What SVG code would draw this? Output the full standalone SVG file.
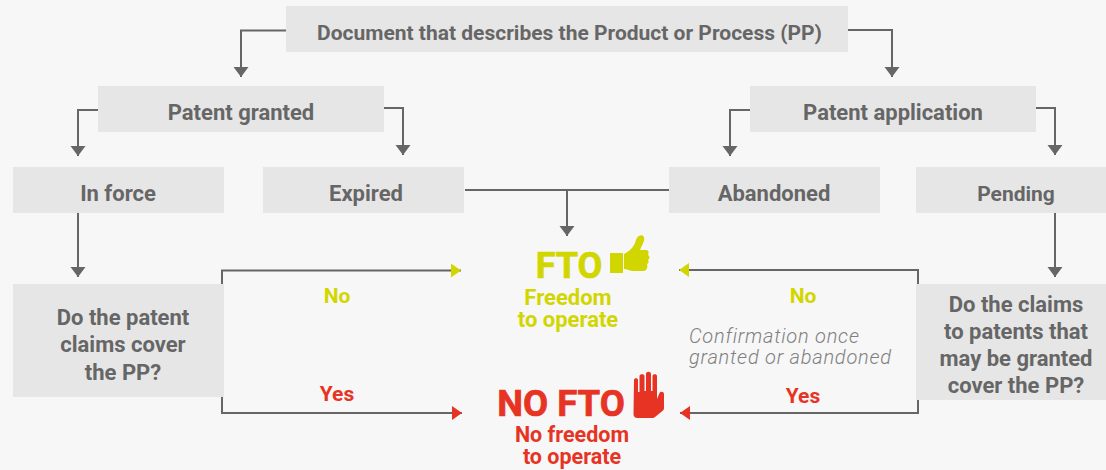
<svg xmlns="http://www.w3.org/2000/svg" width="1106" height="470" viewBox="0 0 1106 470">
<style>
text{font-family:Roboto,"Liberation Sans",sans-serif;text-anchor:middle;font-weight:700}
.n rect{fill:#e6e6e6}
.n text{fill:#666;font-size:22px}
.c path{fill:none;stroke:#666;stroke-width:2}
.y{fill:#d2d600}.r{fill:#e73323}
.b{stroke-width:.7px}
.y.b{stroke:#d2d600}.r.b{stroke:#e73323}
.i{fill:#808080;font-size:20px;font-weight:300;font-style:italic;text-anchor:start;letter-spacing:.77px}
</style>
<defs>
<marker id="g" markerUnits="userSpaceOnUse" markerWidth="12" markerHeight="16" refX="11" refY="8" orient="auto"><path d="M1 .5L11 8L1 15.500Z" fill="#666"/></marker>
<marker id="ym" markerUnits="userSpaceOnUse" markerWidth="12" markerHeight="14" refX="11" refY="7" orient="auto"><path d="M1 0L11 7L1 14Z" fill="#d2d600"/></marker>
<marker id="rm" markerUnits="userSpaceOnUse" markerWidth="12" markerHeight="14" refX="11" refY="7" orient="auto"><path d="M1 0L11 7L1 14Z" fill="#e73323"/></marker>
</defs>
<rect width="1106" height="470" fill="#f7f7f7"/>
<g class="c" id="connectors">
<path d="M286 30.500H241V77" marker-end="url(#g)"/>
<path d="M848 30H892V77" marker-end="url(#g)"/>
<path d="M98 110H78V156" marker-end="url(#g)"/>
<path d="M384 108H403V155" marker-end="url(#g)"/>
<path d="M750 110H730V156" marker-end="url(#g)"/>
<path d="M1036 108H1055V155" marker-end="url(#g)"/>
<path d="M465 190H669"/>
<path d="M567 190V236" marker-end="url(#g)"/>
<path d="M78 213V277" marker-end="url(#g)"/>
<path d="M1055 213V277" marker-end="url(#g)"/>
<path d="M222 284V270.500H461" marker-end="url(#ym)"/>
<path d="M222 397V413H462" marker-end="url(#rm)"/>
<path d="M918 284V270H679" marker-end="url(#ym)"/>
<path d="M918 400V413H680" marker-end="url(#rm)"/>
</g>
<g class="n" id="doc"><rect x="286" y="6" width="562" height="46"/><text x="569.500" y="40" style="font-size:21px">Document that describes the Product or Process (PP)</text></g>
<g class="n" id="granted"><rect x="98" y="86" width="286" height="46"/><text x="241" y="120">Patent granted</text></g>
<g class="n" id="application"><rect x="750" y="86" width="286" height="46"/><text x="893" y="120">Patent application</text></g>
<g class="n" id="inforce"><rect x="13" y="167" width="211" height="46"/><text x="118" y="201">In force</text></g>
<g class="n" id="expired"><rect x="263" y="167" width="201" height="46"/><text x="366" y="201">Expired</text></g>
<g class="n" id="abandoned"><rect x="669" y="167" width="211" height="46"/><text x="774" y="201">Abandoned</text></g>
<g class="n" id="pending"><rect x="916" y="167" width="190" height="46"/><text x="1016" y="201" style="font-size:21px">Pending</text></g>
<g class="n" id="q1"><rect x="13" y="284" width="211" height="113"/><text x="123" y="325">Do the patent</text><text x="123" y="352">claims cover</text><text x="123" y="380">the PP?</text></g>
<g class="n" id="q2"><rect x="916" y="284" width="190" height="116"/><text x="1016" y="312">Do the claims</text><text x="1016" y="339">to patents that</text><text x="1016" y="366">may be granted</text><text x="1016" y="393">cover the PP?</text></g>
<g id="fto">
<text class="y b" x="569" y="278" font-size="36">FTO</text>
<text class="y" x="568" y="305" font-size="22">Freedom</text>
<text class="y" x="568" y="327" font-size="22">to operate</text>
<path class="y" d="M610 253h13v20h-13zM624 254c4-2 8-5 10-9 2-3 2-8 5-9 4-2 6 1 5 5-1 3-3 6-4 9h6c3 0 3 3 2 5 2 1 2 3 0 5 1 2 1 3-1 4 1 3 0 7-4 7h-10c-3 0-6-2-9-2z"/>
</g>
<g id="nofto">
<text class="r b" x="561" y="416" font-size="36.500">NO FTO</text>
<text class="r" x="572" y="442" font-size="21.500">No freedom</text>
<text class="r" x="572" y="464" font-size="21.500">to operate</text>
<path class="r" d="M634 380c0-2.500 4-2.500 4 0v12h1.500v-16c0-2.500 5-2.500 5 0v15h1.500v-17c0-3 5-3 5 0v17h1.500v-15c0-2.500 4.500-2.500 4.500 0v23l2.500-6c1-2 4.500-1.500 4.500 1v14c0 1-.5 2-1 2.500l-8 6.500c-.5.500-1.500 1-2.500 1h-15c-2.500 0-4-1.500-4-4z"/>
</g>
<g id="labels">
<text class="y" x="337" y="303" font-size="21">No</text>
<text class="y" x="803" y="303" font-size="21">No</text>
<text class="r" x="337" y="401" font-size="21">Yes</text>
<text class="r" x="803" y="403" font-size="21">Yes</text>
<text class="i" x="689" y="343">Confirmation once</text>
<text class="i" x="689" y="364">granted or abandoned</text>
</g>
</svg>
